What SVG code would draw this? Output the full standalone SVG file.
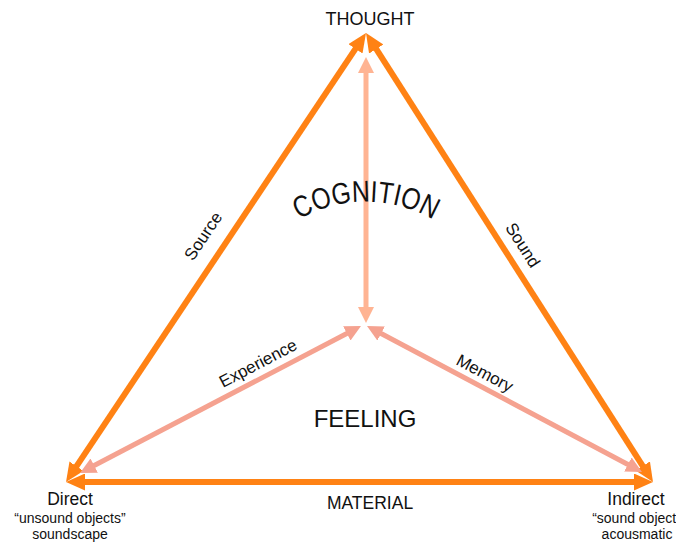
<svg xmlns="http://www.w3.org/2000/svg" width="676" height="545" viewBox="0 0 676 545">
<style>
text{font-family:"Liberation Sans",Arial,sans-serif;fill:#111;}
.edge{stroke:#FF8214;stroke-width:6;fill:none;}
.inner{stroke:#F5A290;stroke-width:5;fill:none;}
.vert{stroke:#FFB493;stroke-width:5;fill:none;}
.lbl{font-size:17px;text-anchor:middle;}
.big{font-size:18px;text-anchor:middle;}
.sub{font-size:14px;text-anchor:middle;}
</style>
<defs>
<marker id="ao" markerUnits="userSpaceOnUse" markerWidth="19" markerHeight="17" viewBox="0 0 19 17" refX="9" refY="8.5" orient="auto-start-reverse"><path d="M0,0 L19,8.5 L0,17 z" fill="#FF8214"/></marker>
<marker id="as" markerUnits="userSpaceOnUse" markerWidth="16" markerHeight="16" viewBox="0 0 16 16" refX="7" refY="8" orient="auto-start-reverse"><path d="M0,0 L16,8 L0,16 z" fill="#F5A290"/></marker>
<marker id="ap" markerUnits="userSpaceOnUse" markerWidth="16" markerHeight="16" viewBox="0 0 16 16" refX="7" refY="8" orient="auto-start-reverse"><path d="M0,0 L16,8 L0,16 z" fill="#FFB493"/></marker>
<path id="arc" d="M 277.7 234.6 A 135 135 0 0 1 454.3 234.6"/>
</defs>
<g id="connectors">
<line class="edge" x1="71.56" y1="473.69" x2="360.44" y2="41.31" marker-start="url(#ao)" marker-end="url(#ao)"/>
<line class="edge" x1="371.39" y1="41.43" x2="647.61" y2="473.57" marker-start="url(#ao)" marker-end="url(#ao)"/>
<line class="edge" x1="76" y1="482" x2="643" y2="482" marker-start="url(#ao)" marker-end="url(#ao)"/>
<line class="vert" x1="366" y1="66" x2="366" y2="314" marker-start="url(#ap)" marker-end="url(#ap)"/>
<line class="inner" x1="87.98" y1="468.83" x2="353.02" y2="330.17" marker-start="url(#as)" marker-end="url(#as)"/>
<line class="inner" x1="374.95" y1="330.22" x2="634.05" y2="467.78" marker-start="url(#as)" marker-end="url(#as)"/>
<text class="lbl" transform="translate(203,236) rotate(-56.25)" y="6">Source</text>
<text class="lbl" transform="translate(523,245) rotate(57.4)" y="6">Sound</text>
<text class="lbl" transform="translate(258,363) rotate(-27.6)" y="6">Experience</text>
<text class="lbl" transform="translate(485,373) rotate(28)" y="6">Memory</text>
</g>
<g id="thought"><text class="big" x="370" y="25">THOUGHT</text></g>
<g id="cognition"><text style="font-size:30px"><textPath href="#arc" startOffset="50%" text-anchor="middle" textLength="140" lengthAdjust="spacingAndGlyphs">COGNITION</textPath></text></g>
<g id="feeling"><text x="365" y="427" style="font-size:24px;text-anchor:middle">FEELING</text></g>
<g id="material"><text x="370" y="509" style="font-size:17.5px;text-anchor:middle">MATERIAL</text></g>
<g id="direct">
<text class="big" x="70" y="505" style="font-size:17.5px">Direct</text>
<text class="sub" x="70" y="523">“unsound objects”</text>
<text class="sub" x="70" y="539">soundscape</text>
</g>
<g id="indirect">
<text class="big" x="636" y="505" style="font-size:17.5px">Indirect</text>
<text class="sub" x="640" y="523">“sound objects”</text>
<text class="sub" x="637" y="539">acousmatic</text>
</g>
</svg>
